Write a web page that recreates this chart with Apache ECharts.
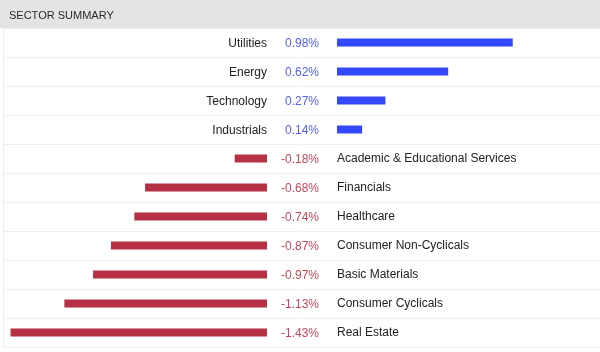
<!DOCTYPE html>
<html>
<head>
<meta charset="utf-8">
<script src="https://cdn.jsdelivr.net/npm/echarts@6/dist/echarts.min.js"></script>
<style>html,body{margin:0;padding:0;background:#fff}#c{width:600px;height:352px}</style>
</head>
<body>
<div id="c"></div>
<script>
var categories = ['Utilities','Energy','Technology','Industrials','Academic & Educational Services','Financials','Healthcare','Consumer Non-Cyclicals','Basic Materials','Consumer Cyclicals','Real Estate'];
var changes = [0.98, 0.62, 0.27, 0.14, -0.18, -0.68, -0.74, -0.87, -0.97, -1.13, -1.43];
var title = 'SECTOR SUMMARY';

var FONT = '"Liberation Sans", Arial, sans-serif';
var BLUE = '#3449ff', RED = '#b73144';
var posData = changes.map(function (v) { return v > 0 ? v : '-'; });
var negData = changes.map(function (v) { return v < 0 ? v : '-'; });
function fmt(v) { return v.toFixed(2) + '%'; }

var chart = echarts.init(document.getElementById('c'), null, {renderer: 'canvas'});
chart.setOption({
  animation: false,
  title: {
    text: title, left: 9, top: 10, padding: 0,
    textStyle: {fontFamily: FONT, fontSize: 11, fontWeight: 'normal', color: '#2a2a2a'}
  },
  graphic: [
    {type: 'rect', left: 0, top: 0, z: -10, shape: {width: 600, height: 28}, style: {fill: '#e4e4e4'}}
  ],
  grid: [
    {left: 3, right: 0, top: 28, bottom: 5},
    {left: 7, width: 260, top: 28, bottom: 5},
    {left: 337, width: 260, top: 28, bottom: 5}
  ],
  xAxis: [
    {gridIndex: 0, type: 'value', show: false, min: 0, max: 1},
    {gridIndex: 1, type: 'value', show: false, min: -1.45, max: 0},
    {gridIndex: 2, type: 'value', show: false, min: 0, max: 1.45}
  ],
  yAxis: [
    {gridIndex: 0, type: 'category', data: categories, inverse: true,
     axisLine: {show: true, lineStyle: {color: '#eeeeee', width: 1}},
     axisTick: {show: false}, axisLabel: {show: false},
     splitLine: {show: true, lineStyle: {color: '#eeeeee', width: 1}}},
    {gridIndex: 1, type: 'category', data: categories, inverse: true, position: 'right',
     axisLine: {show: false}, axisTick: {show: false}, splitLine: {show: false},
     axisLabel: {margin: 70, fontFamily: FONT, fontSize: 12, color: '#222', padding: [2, 0, 0, 0],
       formatter: function (name, i) { return changes[i] < 0 ? name : ''; }}},
    {gridIndex: 2, type: 'category', data: categories, inverse: true, position: 'left',
     axisLine: {show: false}, axisTick: {show: false}, splitLine: {show: false},
     axisLabel: {margin: 18, fontFamily: FONT, fontSize: 12, color: '#222', padding: [2, 0, 0, 0],
       formatter: function (name, i) {
         var v = changes[i];
         return v > 0 ? '{n|' + name + '}{vp|' + fmt(v) + '}' : '{vn|' + fmt(v) + '}';
       },
       rich: {
         n: {fontFamily: FONT, fontSize: 12, color: '#222'},
         vp: {fontFamily: FONT, fontSize: 12, color: '#5560f5', width: 52, align: 'right'},
         vn: {fontFamily: FONT, fontSize: 12, color: '#c4485a', width: 52, align: 'right'}
       }}}
  ],
  series: [
    {type: 'bar', xAxisIndex: 1, yAxisIndex: 1, data: negData, barWidth: 8,
     itemStyle: {color: RED}, silent: true},
    {type: 'bar', xAxisIndex: 2, yAxisIndex: 2, data: posData, barWidth: 8,
     itemStyle: {color: BLUE}, silent: true}
  ]
});
</script>
</body>
</html>
